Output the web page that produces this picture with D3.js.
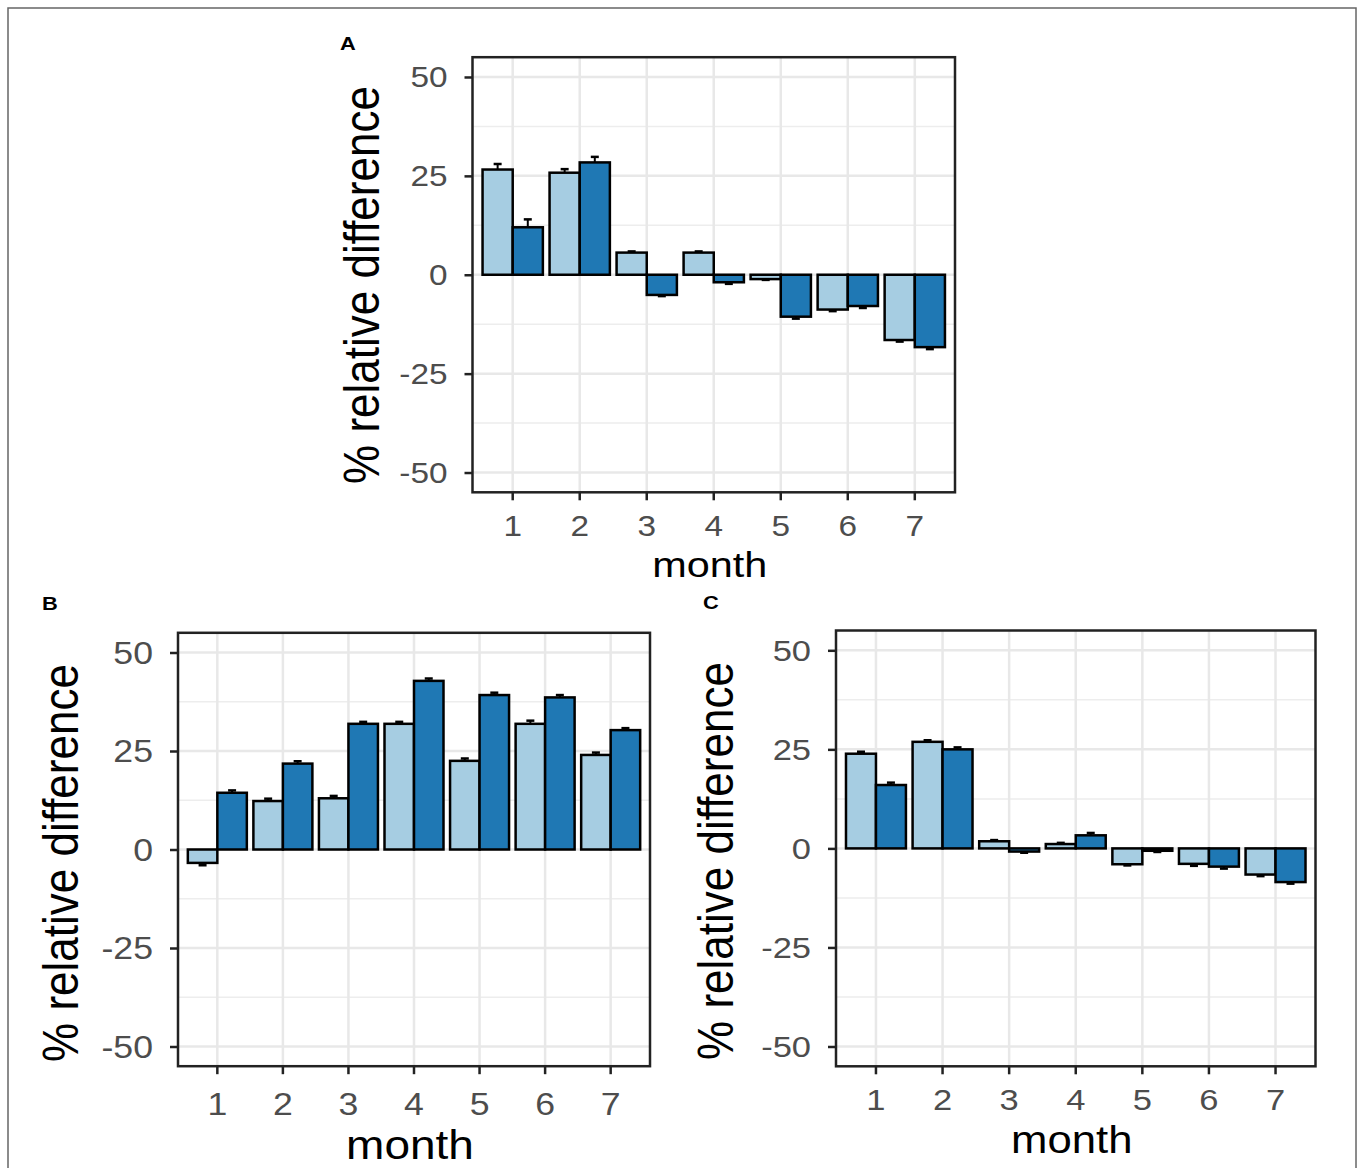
<!DOCTYPE html>
<html>
<head>
<meta charset="utf-8">
<script src="https://cdn.jsdelivr.net/npm/d3@7"></script>
<style>
  body { margin: 0; background: #fff; }
  svg { display: block; }
</style>
</head>
<body>
<div id="chart"></div>
<script>
// datos
var months = ["1", "2", "3", "4", "5", "6", "7"];
var series = ["light", "dark"];
var yTicks = [-50, -25, 0, 25, 50];
var yMinor = [-37.5, -12.5, 12.5, 37.5];

var aLight = [26.6, 25.8, 5.6, 5.6, -1.1, -8.8, -16.5];
var aDark  = [12.0, 28.4, -5.1, -1.9, -10.6, -7.9, -18.3];
var aLightErr = [1.4, 0.9, 0.3, 0.3, 0.2, 0.4, 0.4];
var aDarkErr  = [2.0, 1.4, 0.3, 0.4, 0.5, 0.5, 0.5];

var bLight = [-3.4, 12.3, 13.0, 31.9, 22.5, 31.9, 24.0];
var bDark  = [14.4, 21.8, 31.9, 42.8, 39.2, 38.6, 30.3];
var bLightErr = [0.6, 0.6, 0.6, 0.5, 0.6, 0.8, 0.6];
var bDarkErr  = [0.6, 0.6, 0.5, 0.6, 0.6, 0.6, 0.5];

var cLight = [23.9, 26.9, 1.8, 1.1, -4.0, -3.9, -6.6];
var cDark  = [16.0, 25.0, -0.8, 3.3, -0.6, -4.6, -8.5];
var cLightErr = [0.5, 0.4, 0.3, 0.3, 0.3, 0.5, 0.4];
var cDarkErr  = [0.6, 0.5, 0.3, 0.6, 0.3, 0.5, 0.4];

var colorLight = "#a6cde2";
var colorDark = "#1f78b4";
var stretch = 1.15;   // la imagen original esta estirada en horizontal

var svg = d3.select("#chart")
    .append("svg")
    .attr("width", 1358)
    .attr("height", 1168);

svg.append("rect")
    .attr("x", 8).attr("y", 8)
    .attr("width", 1348).attr("height", 1200)
    .attr("fill", "none")
    .attr("stroke", "#666")
    .attr("stroke-width", 1.5);

function label(x, y, txt, size, opts) {
    opts = opts || {};
    var tr = "translate(" + x + "," + y + ") scale(" + stretch + ",1)";
    if (opts.rotate) tr += " rotate(-90)";
    svg.append("text")
        .attr("transform", tr)
        .attr("text-anchor", opts.anchor || "middle")
        .style("font-family", "'Liberation Sans', Arial, sans-serif")
        .style("font-size", size + "px")
        .style("font-weight", opts.bold ? 700 : 400)
        .attr("fill", opts.color || "#000")
        .text(txt);
}

function drawPanel(p) {
    var x = d3.scaleBand()
        .domain(months)
        .range([p.left, p.right])
        .paddingInner(0.1)
        .paddingOuter(0.15);

    var xs = d3.scaleBand()
        .domain(series)
        .range([0, x.bandwidth()]);

    var y = d3.scaleLinear()
        .domain([-55, 55])
        .range([p.bottom, p.top]);

    var g = svg.append("g");

    g.append("rect")
        .attr("x", p.left).attr("y", p.top)
        .attr("width", p.right - p.left)
        .attr("height", p.bottom - p.top)
        .attr("fill", "#fff");

    // rejilla
    g.selectAll(".minor")
        .data(yMinor)
        .enter()
        .append("line")
        .attr("x1", p.left).attr("x2", p.right)
        .attr("y1", d => y(d)).attr("y2", d => y(d))
        .attr("stroke", "#ededed")
        .attr("stroke-width", 1.5);

    g.selectAll(".major")
        .data(yTicks)
        .enter()
        .append("line")
        .attr("x1", p.left).attr("x2", p.right)
        .attr("y1", d => y(d)).attr("y2", d => y(d))
        .attr("stroke", "#e8e8e8")
        .attr("stroke-width", 2.5);

    g.selectAll(".vgrid")
        .data(months)
        .enter()
        .append("line")
        .attr("x1", d => x(d) + x.bandwidth() / 2)
        .attr("x2", d => x(d) + x.bandwidth() / 2)
        .attr("y1", p.top).attr("y2", p.bottom)
        .attr("stroke", "#e8e8e8")
        .attr("stroke-width", 2.5);

    var rows = [];
    months.forEach(function(m, i) {
        rows.push({ month: m, s: "light", v: p.light[i], e: p.lightErr[i] });
        rows.push({ month: m, s: "dark", v: p.dark[i], e: p.darkErr[i] });
    });

    // barras de error (detras de las barras, como en la figura)
    var eb = g.selectAll(".err")
        .data(rows)
        .enter()
        .append("g");
    eb.append("line")
        .attr("x1", d => x(d.month) + xs(d.s) + xs.bandwidth() / 2)
        .attr("x2", d => x(d.month) + xs(d.s) + xs.bandwidth() / 2)
        .attr("y1", d => y(d.v - d.e))
        .attr("y2", d => y(d.v + d.e))
        .attr("stroke", "#000")
        .attr("stroke-width", 2);
    eb.selectAll("line.cap")
        .data(d => [d.v - d.e, d.v + d.e].map(v => ({ d: d, v: v })))
        .enter()
        .append("line")
        .attr("class", "cap")
        .attr("x1", c => x(c.d.month) + xs(c.d.s) + xs.bandwidth() / 2 - 4)
        .attr("x2", c => x(c.d.month) + xs(c.d.s) + xs.bandwidth() / 2 + 4)
        .attr("y1", c => y(c.v)).attr("y2", c => y(c.v))
        .attr("stroke", "#000")
        .attr("stroke-width", 2.5);

    g.selectAll(".bar")
        .data(rows)
        .enter()
        .append("rect")
        .attr("x", d => x(d.month) + xs(d.s))
        .attr("y", d => y(Math.max(0, d.v)))
        .attr("width", xs.bandwidth())
        .attr("height", d => Math.abs(y(d.v) - y(0)))
        .attr("fill", d => d.s == "light" ? colorLight : colorDark)
        .attr("stroke", "#000")
        .attr("stroke-width", 2.5);

    // borde del panel
    g.append("rect")
        .attr("x", p.left).attr("y", p.top)
        .attr("width", p.right - p.left)
        .attr("height", p.bottom - p.top)
        .attr("fill", "none")
        .attr("stroke", "#222")
        .attr("stroke-width", 2.5);

    var xaxis = d3.axisBottom(x).tickSize(8).tickSizeOuter(0).tickFormat("");
    var yaxis = d3.axisLeft(y).tickValues(yTicks).tickSize(8).tickSizeOuter(0).tickFormat("");

    var gx = g.append("g")
        .attr("transform", "translate(0," + p.bottom + ")")
        .call(xaxis);
    var gy = g.append("g")
        .attr("transform", "translate(" + p.left + ",0)")
        .call(yaxis);
    [gx, gy].forEach(function(a) {
        a.select(".domain").remove();
        a.selectAll("line").attr("stroke", "#222").attr("stroke-width", 2.5);
    });

    months.forEach(function(m) {
        label(x(m) + x.bandwidth() / 2, p.bottom + p.tickDy, m, p.tickSize, { color: "#4d4d4d" });
    });
    yTicks.forEach(function(t) {
        label(p.left - 25, y(t) + p.tickSize * 0.36, String(t), p.tickSize, { color: "#4d4d4d", anchor: "end" });
    });

    label((p.left + p.right) / 2 - 4, p.bottom + p.titleDy, "month", p.xTitleSize);
    label(p.yTitleX, p.yTitleY, "% relative difference", 44, { rotate: true });
    label(p.tagX, p.tagY, p.tag, 19, { bold: true });
}

drawPanel({
    tag: "A", tagX: 348, tagY: 50,
    left: 472.5, right: 955, top: 57.2, bottom: 492.3,
    light: aLight, dark: aDark, lightErr: aLightErr, darkErr: aDarkErr,
    tickSize: 29, tickDy: 44, titleDy: 85, xTitleSize: 36,
    yTitleX: 379, yTitleY: 285
});

drawPanel({
    tag: "B", tagX: 50, tagY: 610,
    left: 178, right: 650, top: 632.8, bottom: 1066.2,
    light: bLight, dark: bDark, lightErr: bLightErr, darkErr: bDarkErr,
    tickSize: 31, tickDy: 49, titleDy: 93, xTitleSize: 40,
    yTitleX: 78, yTitleY: 863
});

drawPanel({
    tag: "C", tagX: 711, tagY: 609,
    left: 836, right: 1315.5, top: 630.5, bottom: 1066.3,
    light: cLight, dark: cDark, lightErr: cLightErr, darkErr: cDarkErr,
    tickSize: 30, tickDy: 44, titleDy: 87, xTitleSize: 38,
    yTitleX: 733, yTitleY: 861
});
</script>
</body>
</html>
